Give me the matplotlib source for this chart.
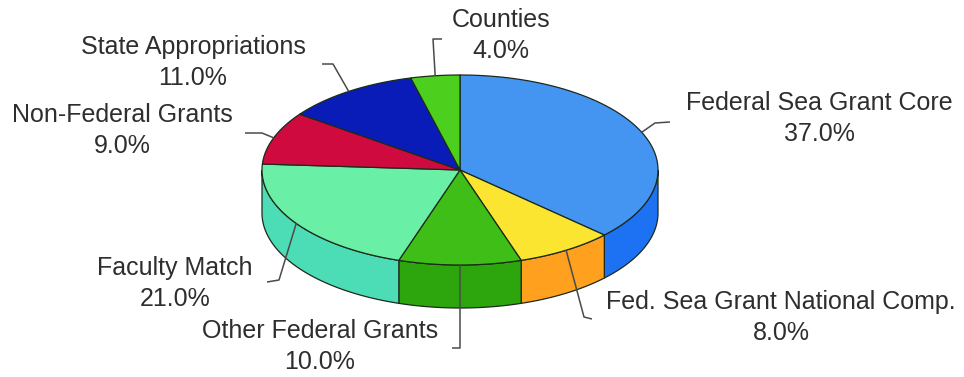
import numpy as np
import matplotlib
matplotlib.use("Agg")
import matplotlib.pyplot as plt
from matplotlib.patches import Polygon

# ---------------- data ----------------
categories = ["Federal Sea Grant Core", "Fed. Sea Grant National Comp.",
              "Other Federal Grants", "Faculty Match", "Non-Federal Grants",
              "State Appropriations", "Counties"]
shares = [37.0, 8.0, 10.0, 21.0, 9.0, 11.0, 4.0]
pct_labels = ["37.0%", "8.0%", "10.0%", "21.0%", "9.0%", "11.0%", "4.0%"]

# ---------------- style ----------------
top_colors = ["#4494F2", "#FCE530", "#3FBE17", "#6AF0A6", "#CE0A3E", "#0A1CB8", "#4DCF1E"]
side_colors = ["#1D72F4", "#FFA01E", "#2DA60D", "#4CDDB6", "#A8082F", "#08149A", "#3AAE14"]
edge = "#1c2a1c"

# label layout (center x, first-line y) and leader elbows (elbow, end) in pixels
label_xy = [(819, 103), (781, 302), (320, 331), (175, 268), (122, 115), (193, 47), (501, 20)]
leader_pts = [((655, 123), (670, 122)),
              ((584, 317), (592, 319)),
              ((460, 348), (452, 348)),
              ((279, 280), (267, 282)),
              ((262, 133), (245, 133)),
              ((333, 64), (322, 64)),
              ((433, 39), (442, 39))]

W, H = 964, 377
cx, cy, rx, ry, depth = 460, 170, 198, 95, 43

fig = plt.figure(figsize=(W / 100, H / 100), dpi=100)
ax = fig.add_axes([0, 0, 1, 1])
ax.set_xlim(0, W)
ax.set_ylim(H, 0)
ax.axis("off")


def pt(t_deg, dy=0.0):
    t = np.radians(t_deg)
    return np.column_stack([cx + rx * np.cos(t), cy - ry * np.sin(t) + dy])


vals = np.array(shares)
bounds = 90 - 360 * np.concatenate([[0], np.cumsum(vals) / vals.sum()])

# side walls (front half only)
for i in range(len(vals)):
    a_start, a_end = bounds[i], bounds[i + 1]
    hi = min(a_start, 0)
    lo = max(a_end, -180)
    if lo < hi:
        ts = np.linspace(hi, lo, 80)
        top = pt(ts)
        bot = pt(ts[::-1], depth)
        poly = np.vstack([top, bot])
        ax.add_patch(Polygon(poly, closed=True, facecolor=side_colors[i],
                             edgecolor=edge, linewidth=0.9, zorder=2))

# top faces
for i in range(len(vals)):
    ts = np.linspace(bounds[i], bounds[i + 1], 120)
    poly = np.vstack([[cx, cy], pt(ts)])
    ax.add_patch(Polygon(poly, closed=True, facecolor=top_colors[i],
                         edgecolor=edge, linewidth=0.9, zorder=3))

# leaders and labels
font = dict(family=["Liberation Sans", "DejaVu Sans"], fontsize=18, color="#2e2e2e")
for i in range(len(vals)):
    mid = (bounds[i] + bounds[i + 1]) / 2
    start = pt(np.array([mid]))[0]
    (ex, ey), (fx, fy) = leader_pts[i]
    ax.plot([start[0], ex, fx], [start[1], ey, fy], color="#4a4a4a",
            linewidth=1.1, zorder=4, solid_capstyle="butt")
    lx, ly = label_xy[i]
    ax.text(lx, ly, categories[i], ha="center", va="center", zorder=5, **font)
    ax.text(lx, ly + 31, pct_labels[i], ha="center", va="center", zorder=5, **font)

fig.savefig("out.png", dpi=100, facecolor="white")
